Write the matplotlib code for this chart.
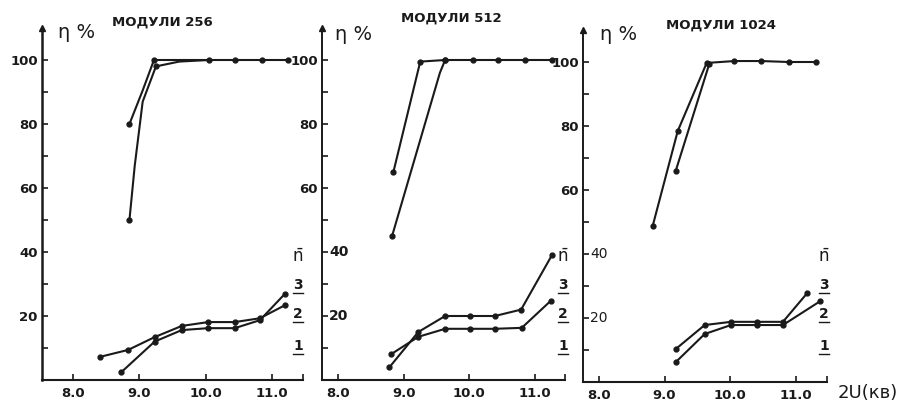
import matplotlib
matplotlib.use("Agg")
import matplotlib.pyplot as plt
from matplotlib.lines import Line2D

# ---------------- data ----------------
titles = ["МОДУЛИ 256", "МОДУЛИ 512", "МОДУЛИ 1024"]
x_ticks = [8.0, 9.0, 10.0, 11.0]
x_tick_labels = ["8.0", "9.0", "10.0", "11.0"]
y_major = [20, 40, 60, 80, 100]
y_minor = [10, 30, 50, 70, 90]
legend_labels = ["3", "2", "1"]

# module 256
m256_up_a_x = [8.85, 9.05, 9.22, 9.6, 10.05, 10.45, 10.85, 11.25]
m256_up_a_y = [80, 90.5, 100, 100, 100, 100, 100, 100]
m256_up_a_marks = [0, 2, 4, 5, 6, 7]
m256_up_b_x = [8.85, 8.93, 9.05, 9.25, 9.6, 10.05]
m256_up_b_y = [50, 67, 87, 98, 99.5, 100]
m256_up_b_marks = [0, 3]
m256_lo_a_x = [8.40, 8.83, 9.23, 9.64, 10.04, 10.44, 10.82, 11.20]
m256_lo_a_y = [7.2, 9.4, 13.4, 16.9, 18.1, 18.1, 19.3, 23.4]
m256_lo_b_x = [8.73, 9.23, 9.64, 10.04, 10.44, 10.82, 11.20]
m256_lo_b_y = [2.5, 12.0, 15.6, 16.2, 16.2, 18.7, 27.0]

# module 512
m512_up_a_x = [8.84, 9.25, 9.63, 10.06, 10.44, 10.85, 11.26]
m512_up_a_y = [65, 99.5, 100, 100, 100, 100, 100]
m512_up_b_x = [8.82, 9.55, 9.63]
m512_up_b_y = [45, 96, 100]
m512_up_b_marks = [0, 2]
m512_lo_a_x = [8.78, 9.22, 9.63, 10.01, 10.39, 10.79, 11.26]
m512_lo_a_y = [4.0, 15.0, 20.0, 20.0, 20.0, 22.0, 39.0]
m512_lo_b_x = [8.80, 9.22, 9.63, 10.01, 10.39, 10.80, 11.24]
m512_lo_b_y = [8.0, 13.5, 16.0, 16.0, 16.0, 16.3, 24.7]

# module 1024
m1024_up_a_x = [8.82, 9.20, 9.64, 10.06, 10.47, 10.89, 11.30]
m1024_up_a_y = [48.8, 78.4, 99.7, 100.3, 100.3, 100, 100]
m1024_up_b_x = [9.17, 9.68]
m1024_up_b_y = [66, 99.4]
m1024_lo_a_x = [9.17, 9.61, 10.01, 10.40, 10.80, 11.17]
m1024_lo_a_y = [10.3, 17.8, 18.8, 18.8, 18.8, 27.8]
m1024_lo_b_x = [9.17, 9.61, 10.01, 10.40, 10.80, 11.37]
m1024_lo_b_y = [6.2, 15.0, 17.8, 17.8, 17.8, 25.3]

panels = [
    [(m256_up_a_x, m256_up_a_y, m256_up_a_marks),
     (m256_up_b_x, m256_up_b_y, m256_up_b_marks),
     (m256_lo_a_x, m256_lo_a_y, None), (m256_lo_b_x, m256_lo_b_y, None)],
    [(m512_up_a_x, m512_up_a_y, None),
     (m512_up_b_x, m512_up_b_y, m512_up_b_marks),
     (m512_lo_a_x, m512_lo_a_y, None), (m512_lo_b_x, m512_lo_b_y, None)],
    [(m1024_up_a_x, m1024_up_a_y, None), (m1024_up_b_x, m1024_up_b_y, None),
     (m1024_lo_a_x, m1024_lo_a_y, None), (m1024_lo_b_x, m1024_lo_b_y, None)],
]

# ---------------- layout ----------------
W, H = 906, 404
fig = plt.figure(figsize=(W / 100, H / 100), dpi=100)
fig.patch.set_facecolor("white")

boxes = [((42, 303, 380, 28), (7.53, 11.47)),
         ((322, 565, 380, 28), (7.75, 11.46)),
         ((583, 827, 382, 30), (7.76, 11.47))]
title_pos = [(162, 22), (451, 18), (721, 25)]
eta_pos = [(58, 33), (335, 35), (600, 35)]
legend_x = [298, 563, 824]
legend_y = [257, 285, 314, 346]

FONT = ["Liberation Sans Narrow", "DejaVu Sans"]
ink = "#1a1a1a"

def fx(px):
    return px / W

def fy(py):
    return 1 - py / H

for i, ((l, r, b, t), xl) in enumerate(boxes):
    ax = fig.add_axes([fx(l), fy(b), fx(r) - fx(l), fy(t) - fy(b)])
    ax.set_xlim(*xl)
    ax.set_ylim(0, 110)
    for s in ("top", "right"):
        ax.spines[s].set_visible(False)
    ax.spines["left"].set_linewidth(1.8 if i == 0 else 1.4)
    ax.spines["bottom"].set_linewidth(1.5)
    ax.spines["left"].set_color(ink)
    ax.spines["bottom"].set_color(ink)
    ax.plot([xl[0]], [110], marker="^", color=ink, markersize=4,
            clip_on=False)

    ax.set_xticks(x_ticks + [xl[1]])
    ax.set_xticklabels(x_tick_labels + [""], fontsize=9.5, fontweight="bold",
                       family=FONT, color=ink)
    ax.tick_params(axis="x", direction="in", length=4, width=1.2, pad=5,
                   color=ink)

    ax.set_yticks(y_major)
    ax.set_yticks(y_minor, minor=True)
    if i == 0:
        ax.set_yticklabels([str(v) for v in y_major], fontsize=9.5,
                           fontweight="bold", family=FONT, color=ink)
    else:
        labs = [str(v) if v >= 60 else "" for v in y_major]
        ax.set_yticklabels(labs, fontsize=9.5, fontweight="bold",
                           family=FONT, color=ink)
        for v in y_major:
            if v < 60:
                ax.text(0.03, v, str(v), transform=ax.get_yaxis_transform(),
                        ha="left", va="center", fontsize=10,
                        fontweight="bold" if i == 1 else "normal",
                        family=FONT, color=ink)
    ax.tick_params(axis="y", which="both", direction="in", length=4,
                   width=1.2, pad=3, color=ink)

    for (xs, ys, marks) in panels[i]:
        ax.plot(xs, ys, color=ink, lw=1.5, marker="o", markersize=3.5,
                markevery=marks, solid_capstyle="round",
                solid_joinstyle="round")

    tx, ty = title_pos[i]
    fig.text(fx(tx), fy(ty), titles[i], ha="center", va="center",
             fontsize=9.5, fontweight="bold", family=FONT, color=ink)
    ex, ey = eta_pos[i]
    fig.text(fx(ex), fy(ey), "η %", ha="left", va="center", fontsize=14,
             family=["DejaVu Sans"], color=ink)

    lx = legend_x[i]
    fig.text(fx(lx), fy(legend_y[0]), r"$\bar{\mathrm{n}}$", ha="center",
             va="center", fontsize=12, color=ink)
    for lab, ly in zip(legend_labels, legend_y[1:]):
        fig.text(fx(lx), fy(ly), lab, ha="center", va="center", fontsize=10,
                 fontweight="bold", family=FONT, color=ink)
        fig.add_artist(Line2D([fx(lx - 5), fx(lx + 5)],
                              [fy(ly + 8), fy(ly + 8)], color=ink, lw=1.0))

fig.text(fx(838), fy(393), "2U(кв)", ha="left", va="center", fontsize=13,
         family=["DejaVu Sans"], color=ink)

fig.savefig("out.png", dpi=100, facecolor="white")
